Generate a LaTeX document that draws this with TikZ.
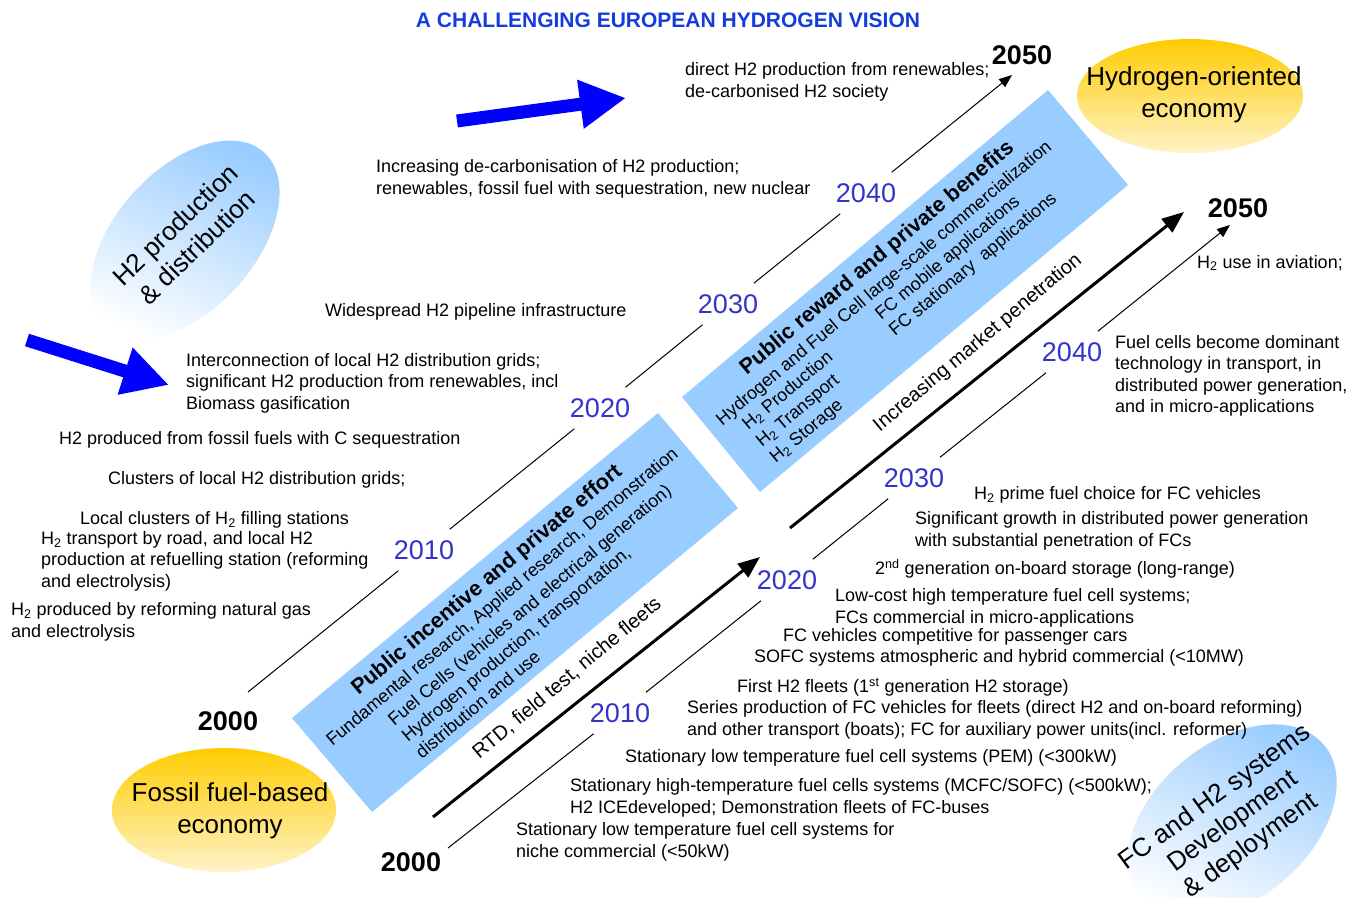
\documentclass[tikz,border=0pt]{standalone}
\usepackage{fontspec}
\setmainfont{Liberation Sans}
\usetikzlibrary{arrows.meta}

\definecolor{bandblue}{RGB}{153,204,255}
\definecolor{yearblue}{RGB}{51,51,204}
\definecolor{titleblue}{RGB}{20,60,220}
\definecolor{fatblue}{RGB}{0,0,255}
\definecolor{gold}{RGB}{255,204,0}
\definecolor{paleyellow}{RGB}{255,243,200}

\begin{document}
\begin{tikzpicture}[x=1pt, y=-1pt,
    yearlbl/.style={text=yearblue, font=\fontsize{27}{30}\selectfont,
                    inner xsep=2pt, inner ysep=11pt},
    milestone/.style={font=\fontsize{27}{30}\selectfont\bfseries, inner sep=0pt},
    note/.style={anchor=west, align=left, inner sep=0pt,
                 font=\fontsize{18}{21.5}\selectfont},
    bandhead/.style={inner sep=0pt, font=\fontsize{21.5}{24}\selectfont\bfseries},
    bandtxt/.style={inner sep=0pt, align=left, font=\fontsize{18}{21.5}\selectfont},
    econ/.style={align=center, inner sep=0pt, font=\fontsize{26}{32}\selectfont},
    trackline/.style={line width=1pt},
    trackarrow/.style={line width=1pt, -{Triangle[length=13pt, width=10pt]}},
    mainarrow/.style={line width=3pt, -{Triangle[length=22pt, width=17pt]}},
    fatarrow/.style={draw=fatblue, line width=13pt,
                     -{Triangle[length=46pt, width=46pt]}}]

  \useasboundingbox (0,0) rectangle (1359,897);

  % ovals
  \shade[top color=gold, bottom color=paleyellow] (224,810) ellipse [x radius=112, y radius=62];
  \shade[top color=gold, bottom color=paleyellow] (1190,96) ellipse [x radius=113, y radius=57];
  \begin{scope}[transform canvas={rotate around={48:(185,240)}}]
    \shade[top color=bandblue, bottom color=white, shading angle=-73]
      (185,240) ellipse [x radius=118, y radius=70];
  \end{scope}
  \begin{scope}[transform canvas={rotate around={40:(1232,822)}}]
    \shade[top color=bandblue, bottom color=white, shading angle=-65]
      (1232,822) ellipse [x radius=120, y radius=78];
  \end{scope}

  % bands
  \fill[bandblue] (292,718) -- (372,812) -- (738,508) -- (658,413) -- cycle;
  \fill[bandblue] (682,397) -- (760,492) -- (1128,185) -- (1048,90) -- cycle;

  \node[font=\fontsize{21}{24}\selectfont\bfseries, text=titleblue] (title) at (668,20)
    {A CHALLENGING EUROPEAN HYDROGEN VISION};

  % fat blue arrows
  \coordinate (fatAs) at (457,121);
  \coordinate (fatAe) at (626,98);
  \coordinate (fatBs) at (27,340);
  \coordinate (fatBe) at (169,385);
  \draw[fatarrow] (fatAs) -- (fatAe);
  \draw[fatarrow] (fatBs) -- (fatBe);

  % upper track
  \node[milestone] (upstart) at (228,721) {2000};
  \node[milestone] (upend) at (1022,55) {2050};
  \coordinate (up00) at (248,692);
  \node[yearlbl] (up10) at (424,550) {2010};
  \node[yearlbl] (up20) at (600,408) {2020};
  \node[yearlbl] (up30) at (728,304) {2030};
  \node[yearlbl] (up40) at (866,193) {2040};
  \coordinate (up50) at (1012,75);
  \draw[trackline] (up00) -- (up10) (up10) -- (up20) (up20) -- (up30) (up30) -- (up40);
  \draw[trackarrow] (up40) -- (up50);

  % lower track
  \node[milestone] (lostart) at (411,862) {2000};
  \node[milestone] (loend) at (1238,208) {2050};
  \coordinate (lo00) at (448,848);
  \node[yearlbl] (lo10) at (620,713) {2010};
  \node[yearlbl] (lo20) at (787,580) {2020};
  \node[yearlbl] (lo30) at (914,478) {2030};
  \node[yearlbl] (lo40) at (1072,352) {2040};
  \coordinate (lo50) at (1230,225);
  \draw[trackline] (lo00) -- (lo10) (lo10) -- (lo20) (lo20) -- (lo30) (lo30) -- (lo40);
  \draw[trackarrow] (lo40) -- (lo50);

  % market arrows
  \coordinate (mk0) at (433,817);
  \coordinate (mk1) at (760,557);
  \coordinate (mk2) at (790,528);
  \coordinate (mk3) at (1184,212);
  \draw[mainarrow] (mk0) -- (mk1);
  \draw[mainarrow] (mk2) -- (mk3);
  \node[rotate=40, font=\fontsize{20}{24}\selectfont] (rtd) at (567,678)
    {RTD, field test, niche fleets};
  \node[rotate=40, font=\fontsize{20}{24}\selectfont] (market) at (978,343)
    {Increasing market penetration};

  % oval labels
  \node[econ] (fossil) at (230,811) {Fossil fuel-based\\economy};
  \node[econ] (hydrogen) at (1194,95) {Hydrogen-oriented\\economy};
  \node[econ, rotate=44, font=\fontsize{26}{31}\selectfont] (prod) at (186,236)
    {H2 production\\\& distribution};
  \node[econ, rotate=36, font=\fontsize{26}{30}\selectfont] (fcsys) at (1233,822)
    {FC and H2 systems\\Development\\\& deployment};

  % band texts
  \begin{scope}[rotate=40, transform shape]
    \node[bandhead] (effort) at (0,758) {Public incentive and private effort};
    \node[bandtxt] (research) at (1,781)
      {Fundamental research, Applied research, Demonstration};
    \node[bandtxt, anchor=west] (effortlist) at (-165,825)
      {Fuel Cells (vehicles and electrical generation)\\Hydrogen production, transportation,\\distribution and use};
    \node[bandhead] (benefits) at (506,762) {Public reward and private benefits};
    \node[bandtxt] (commerce) at (495,786)
      {Hydrogen and Fuel Cell large-scale commercialization};
    \node[bandtxt, anchor=west] (h2list) at (296,828)
      {H\textsubscript{2} Production\\H\textsubscript{2} Transport\\H\textsubscript{2} Storage};
    \node[bandtxt, anchor=west] (fclist) at (469,818)
      {FC mobile applications\\FC stationary\ \ applications};
  \end{scope}

  % production and distribution notes
  \node[note] (n1) at (685,82) {direct H2 production from renewables;\\de-carbonised H2 society};
  \node[note] (n2) at (376,179) {Increasing de-carbonisation of H2 production;\\renewables, fossil fuel with sequestration, new nuclear};
  \node[note] (n3) at (325,312) {Widespread H2 pipeline infrastructure};
  \node[note] (n4) at (186,383) {Interconnection of local H2 distribution grids;\\significant H2 production from renewables, incl\\Biomass gasification};
  \node[note] (n5) at (59,440) {H2 produced from fossil fuels with C sequestration};
  \node[note] (n6) at (108,480) {Clusters of local H2 distribution grids;};
  \node[note] (n7) at (80,520) {Local clusters of H\textsubscript{2} filling stations};
  \node[note] (n8) at (41,561) {H\textsubscript{2} transport by road, and local H2\\production at refuelling station (reforming\\and electrolysis)};
  \node[note] (n9) at (11,622) {H\textsubscript{2} produced by reforming natural gas\\and electrolysis};

  % systems notes
  \node[note] (s1) at (1197,263) {H\textsubscript{2} use in aviation;};
  \node[note] (s2) at (1115,376) {Fuel cells become dominant\\technology in transport, in\\distributed power generation,\\and in micro-applications};
  \node[note] (s3) at (974,495) {H\textsubscript{2} prime fuel choice for FC vehicles};
  \node[note] (s4) at (915,531) {Significant growth in distributed power generation\\with substantial penetration of FCs};
  \node[note] (s5) at (875,569) {2\textsuperscript{nd} generation on-board storage (long-range)};
  \node[note] (s6) at (835,608) {Low-cost high temperature fuel cell systems;\\FCs commercial in micro-applications};
  \node[note] (s7) at (783,637) {FC vehicles competitive for passenger cars};
  \node[note] (s8) at (754,658) {SOFC systems atmospheric and hybrid commercial (<10MW)};
  \node[note] (s9) at (737,687) {First H2 fleets (1\textsuperscript{st} generation H2 storage)};
  \node[note] (s10) at (687,720) {Series production of FC vehicles for fleets (direct H2 and on-board reforming)\\and other transport (boats); FC for auxiliary power units(incl. reformer)};
  \node[note] (s11) at (625,758) {Stationary low temperature fuel cell systems (PEM) (<300kW)};
  \node[note] (s12) at (570,798) {Stationary high-temperature fuel cells systems (MCFC/SOFC) (<500kW);\\H2 ICEdeveloped; Demonstration fleets of FC-buses};
  \node[note] (s13) at (516,842) {Stationary low temperature fuel cell systems for\\niche commercial (<50kW)};
\end{tikzpicture}
\end{document}
